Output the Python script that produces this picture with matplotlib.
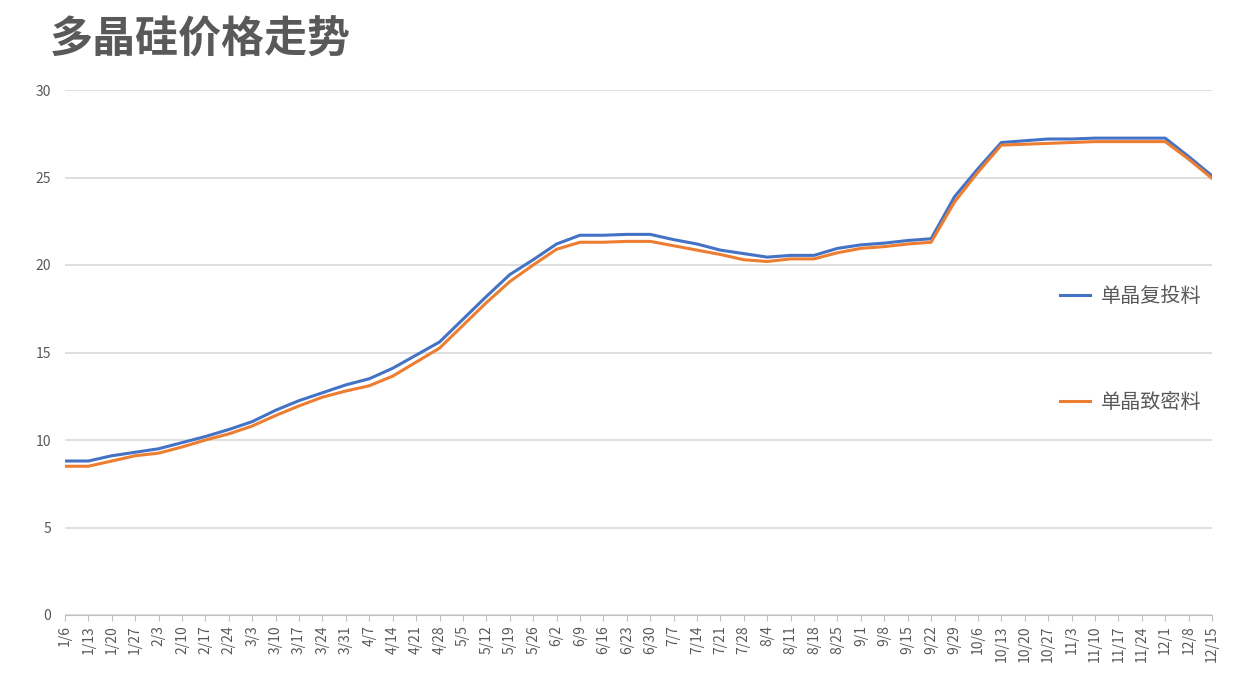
import matplotlib
matplotlib.use("Agg")
import matplotlib.pyplot as plt

plt.rcParams['font.family'] = ['Noto Sans CJK SC', 'DejaVu Sans']

dates = ["1/6","1/13","1/20","1/27","2/3","2/10","2/17","2/24","3/3","3/10","3/17","3/24","3/31",
         "4/7","4/14","4/21","4/28","5/5","5/12","5/19","5/26","6/2","6/9","6/16","6/23","6/30",
         "7/7","7/14","7/21","7/28","8/4","8/11","8/18","8/25","9/1","9/8","9/15","9/22","9/29",
         "10/6","10/13","10/20","10/27","11/3","11/10","11/17","11/24","12/1","12/8","12/15"]
recharge = [8.8,8.8,9.1,9.3,9.5,9.85,10.2,10.6,11.05,11.7,12.25,12.7,13.15,13.5,14.1,14.85,15.6,
            16.9,18.2,19.45,20.3,21.2,21.7,21.7,21.75,21.75,21.45,21.2,20.85,20.65,20.45,20.55,
            20.55,20.95,21.15,21.25,21.4,21.5,23.9,25.5,27.0,27.1,27.2,27.2,27.25,27.25,27.25,
            27.25,26.2,25.1]
dense = [8.5,8.5,8.8,9.1,9.25,9.6,10.0,10.35,10.8,11.4,11.95,12.45,12.8,13.1,13.65,14.45,15.25,
         16.55,17.85,19.05,20.0,20.9,21.3,21.3,21.35,21.35,21.1,20.85,20.6,20.3,20.2,20.35,
         20.35,20.7,20.95,21.05,21.2,21.3,23.6,25.3,26.85,26.9,26.95,27.0,27.05,27.05,27.05,
         27.05,26.05,24.95]

fig = plt.figure(figsize=(12.57, 6.99), dpi=100)
ax = fig.add_axes([65/1257, 1-615/699, (1212-65)/1257, (615-90)/699])
x = list(range(len(dates)))
l1, = ax.plot(x, recharge, color='#4472C4', lw=2.2, label='单晶复投料')
l2, = ax.plot(x, dense, color='#ED7D31', lw=2.2, label='单晶致密料')
ax.set_xlim(0, len(dates)-1)
ax.set_ylim(0, 30)
ax.set_yticks([0,5,10,15,20,25,30])
ax.set_xticks(x)
ax.set_xticklabels(dates, rotation=90, fontsize=10, color='#595959')
ax.tick_params(axis='y', labelsize=10, colors='#595959', length=0, pad=10)
ax.tick_params(axis='x', length=4, color='#BFBFBF')
ax.grid(axis='y', color='#D9D9D9', lw=1.2)
for s in ['top','right','left']:
    ax.spines[s].set_visible(False)
ax.spines['bottom'].set_color('#BFBFBF')
ax.set_axisbelow(True)

fig.legend(handles=[l1, l2], loc='upper left', bbox_to_anchor=(1042/1257, 1-268/699),
           frameon=False, fontsize=14.5, labelspacing=4.2, handlelength=1.5, handletextpad=0.5,
           labelcolor='#595959')

fig.text(50/1257, 1-40/699, '多晶硅价格走势', fontsize=31, fontweight='bold', color='#595959',
         va='center', ha='left')
fig.savefig('out.png', dpi=100)
